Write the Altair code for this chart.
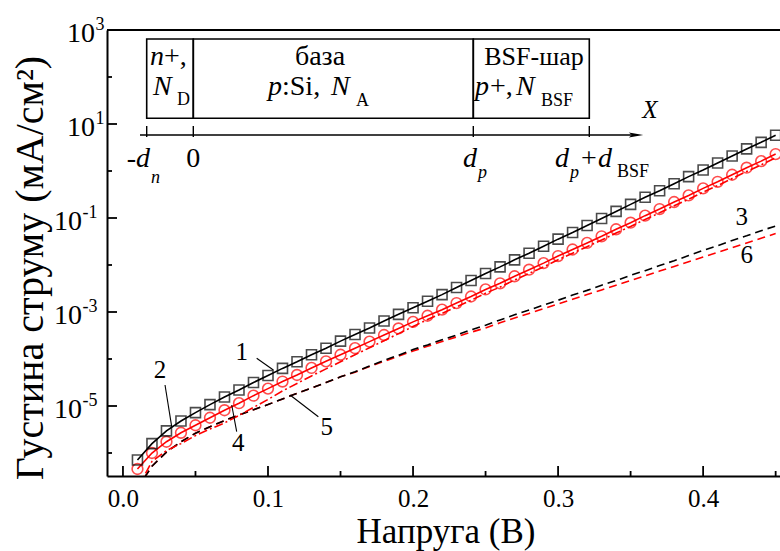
import altair as alt
import pandas as pd

# ---------------- data ----------------
voltage = [0.01, 0.02, 0.03, 0.04, 0.05, 0.06, 0.07, 0.08, 0.09, 0.10,
           0.11, 0.12, 0.13, 0.14, 0.15, 0.16, 0.17, 0.18, 0.19, 0.20,
           0.21, 0.22, 0.23, 0.24, 0.25, 0.26, 0.27, 0.28, 0.29, 0.30,
           0.31, 0.32, 0.33, 0.34, 0.35, 0.36, 0.37, 0.38, 0.39, 0.40,
           0.41, 0.42, 0.43, 0.44, 0.45]

# log10 of current density (mA/cm^2)
log_j_squares = [-6.15, -5.80, -5.53, -5.32, -5.14, -4.97, -4.81, -4.66, -4.50, -4.35,
                 -4.20, -4.06, -3.91, -3.77, -3.62, -3.48, -3.34, -3.19, -3.05, -2.91,
                 -2.77, -2.63, -2.48, -2.33, -2.18, -2.04, -1.89, -1.75, -1.60, -1.45,
                 -1.31, -1.16, -1.01, -0.86, -0.71, -0.56, -0.42, -0.27, -0.12, 0.02,
                 0.17, 0.32, 0.47, 0.61, 0.76]
log_j_circles = [-6.34, -6.00, -5.76, -5.57, -5.41, -5.25, -5.09, -4.94, -4.78, -4.63,
                 -4.48, -4.34, -4.19, -4.05, -3.91, -3.77, -3.63, -3.49, -3.35, -3.21,
                 -3.08, -2.95, -2.81, -2.67, -2.52, -2.39, -2.24, -2.10, -1.96, -1.81,
                 -1.67, -1.53, -1.39, -1.24, -1.10, -0.95, -0.81, -0.66, -0.52, -0.37,
                 -0.23, -0.08, 0.07, 0.21, 0.36]
log_j_dash_black = [-6.75, -6.28, -5.98, -5.76, -5.58, -5.44, -5.31, -5.19, -5.08, -4.97,
                    -4.85, -4.73, -4.62, -4.50, -4.38, -4.27, -4.15, -4.03, -3.92, -3.80,
                    -3.70, -3.59, -3.49, -3.38, -3.28, -3.17, -3.06, -2.96, -2.85, -2.75,
                    -2.64, -2.54, -2.43, -2.33, -2.22, -2.12, -2.01, -1.91, -1.80, -1.69,
                    -1.59, -1.48, -1.38, -1.27, -1.17]
log_j_dash_red = [-6.75, -6.28, -5.98, -5.76, -5.58, -5.44, -5.31, -5.19, -5.08, -4.97,
                  -4.85, -4.73, -4.62, -4.50, -4.38, -4.28, -4.16, -4.05, -3.94, -3.83,
                  -3.73, -3.63, -3.53, -3.43, -3.34, -3.23, -3.13, -3.03, -2.93, -2.83,
                  -2.73, -2.63, -2.53, -2.43, -2.33, -2.23, -2.13, -2.03, -1.93, -1.83,
                  -1.73, -1.63, -1.53, -1.43, -1.33]
log_j_dashdot_red = [-6.75, -6.18, -5.95, -5.80, -5.63, -5.49, -5.36, -5.20, -5.03, -4.86,
                     -4.68, -4.52, -4.36, -4.21, -4.06, -3.91, -3.76, -3.61, -3.46, -3.31,
                     -3.16, -3.03, -2.89, -2.75, -2.60, -2.47, -2.32, -2.18, -2.04, -1.89,
                     -1.75, -1.61, -1.47, -1.32, -1.18, -1.03, -0.89, -0.74, -0.60, -0.45,
                     -0.31, -0.16, -0.01, 0.13, 0.28]

# curve number labels (voltage, log10 J)
ann_labels = ["1", "2", "3", "4", "5", "6"]
ann_v = [0.0819, 0.0255, 0.4267, 0.0795, 0.1405, 0.4300]
ann_logj = [-3.845, -4.234, -0.972, -5.787, -5.440, -1.787]
# leader lines (start voltage, start logJ, end voltage, end logJ)
lead_v1 = [0.0922, 0.0290, 0.0784, 0.1347]
lead_l1 = [-3.985, -4.553, -5.547, -5.228]
lead_v2 = [0.1037, 0.0336, 0.0750, 0.1152]
lead_l2 = [-4.234, -5.440, -4.979, -4.766]

x_major = [0.0, 0.1, 0.2, 0.3, 0.4]
x_minor = [0.05, 0.15, 0.25, 0.35, 0.45]
y_major = [1e3, 1e1, 1e-1, 1e-3, 1e-5]
y_major_exp = ["3", "1", "-1", "-3", "-5"]
y_minor = [1e2, 1e0, 1e-2, 1e-4, 1e-6]

# ---------------- layout ----------------
W, H = 673, 446
FONT = "'Liberation Serif', 'Times New Roman', 'DejaVu Serif', serif"
RED = "#ff0000"

xscale = alt.Scale(domain=[-0.011, 0.453], nice=False, zero=False)
yscale = alt.Scale(type="log", domain=[3.24e-7, 1000], nice=False)
xaxis = alt.Axis(values=x_major, format=".1f", labelFont=FONT, labelFontSize=25,
                 labelColor="black", labelPadding=10, labelFlush=False, ticks=False,
                 title=None, grid=False, domainColor="black", domainWidth=2)
yaxis = alt.Axis(labels=False, ticks=False, title=None, grid=False,
                 domainColor="black", domainWidth=2)


def X(field):
    return alt.X(field, type="quantitative", scale=xscale, axis=xaxis)


def Y(field):
    return alt.Y(field, type="quantitative", scale=yscale, axis=yaxis)


def series(logs):
    return pd.DataFrame({"V": voltage, "J": [10 ** v for v in logs]})


layers = []

# curves
layers.append(alt.Chart(series(log_j_dash_red)).mark_line(
    color=RED, strokeWidth=1.6, strokeDash=[8, 5], clip=True).encode(x=X("V"), y=Y("J")))
layers.append(alt.Chart(series(log_j_dash_black)).mark_line(
    color="black", strokeWidth=1.6, strokeDash=[8, 5], clip=True).encode(x=X("V"), y=Y("J")))
layers.append(alt.Chart(series(log_j_dashdot_red)).mark_line(
    color=RED, strokeWidth=1.6, strokeDash=[9, 3, 2, 3], clip=True).encode(x=X("V"), y=Y("J")))
layers.append(alt.Chart(series(log_j_circles)).mark_line(
    color=RED, strokeWidth=1.6, clip=True).encode(x=X("V"), y=Y("J")))
layers.append(alt.Chart(series(log_j_circles)).mark_point(
    shape="circle", filled=False, color=RED, size=115, strokeWidth=1.6, clip=True).encode(x=X("V"), y=Y("J")))
layers.append(alt.Chart(series(log_j_squares)).mark_line(
    color="black", strokeWidth=1.6, clip=True).encode(x=X("V"), y=Y("J")))
layers.append(alt.Chart(series(log_j_squares)).mark_point(
    shape="square", filled=False, color="black", size=100, strokeWidth=1.6, clip=True).encode(x=X("V"), y=Y("J")))

# annotations
ann_df = pd.DataFrame({"V": ann_v, "J": [10 ** v for v in ann_logj], "label": ann_labels})
layers.append(alt.Chart(ann_df).mark_text(font=FONT, fontSize=25, color="black",
                                          baseline="middle", align="center").encode(
    x=X("V"), y=Y("J"), text="label:N"))
lead_df = pd.DataFrame({"V1": lead_v1, "J1": [10 ** v for v in lead_l1],
                        "V2": lead_v2, "J2": [10 ** v for v in lead_l2]})
layers.append(alt.Chart(lead_df).mark_rule(color="black", strokeWidth=1.1).encode(
    x=X("V1"), y=Y("J1"), x2="V2:Q", y2="J2:Q"))

# inward ticks
for vals, ln in ((x_major, 10), (x_minor, 5)):
    layers.append(alt.Chart(pd.DataFrame({"V": vals})).mark_rule(color="black", strokeWidth=1.8).encode(
        x=X("V"), y=alt.value(H), y2=alt.value(H - ln)))
for vals, ln in ((y_major, 10), (y_minor, 5)):
    layers.append(alt.Chart(pd.DataFrame({"J": vals})).mark_rule(color="black", strokeWidth=1.8).encode(
        y=Y("J"), x=alt.value(0), x2=alt.value(ln)))

# top frame line
dummy = pd.DataFrame({"d": [0]})
layers.append(alt.Chart(dummy).mark_rule(color="black", strokeWidth=2).encode(
    x=alt.value(0), x2=alt.value(W), y=alt.value(0)))

# y tick labels 10^n
ylab = pd.DataFrame({"J": y_major, "exp": y_major_exp})
ylab["neg"] = ylab["exp"].str.startswith("-")
for neg, xr in ((False, -12), (True, -25)):
    sub = ylab[ylab["neg"] == neg]
    layers.append(alt.Chart(sub).mark_text(text="10", font=FONT, fontSize=28, color="black",
                                           align="right", baseline="middle", dy=4).encode(
        y=Y("J"), x=alt.value(xr)))
    layers.append(alt.Chart(sub).mark_text(font=FONT, fontSize=18, color="black",
                                           align="left", baseline="middle", dy=-5).encode(
        y=Y("J"), x=alt.value(xr + 0.5), text="exp:N"))

# axis titles
layers.append(alt.Chart(dummy).mark_text(text="Напруга (В)", font=FONT, fontSize=35, color="black",
                                         align="center", baseline="alphabetic").encode(
    x=alt.value(339), y=alt.value(513)))
layers.append(alt.Chart(dummy).mark_text(text="Густина струму (мА/см²)", font=FONT, fontSize=40,
                                         color="black", angle=270, align="center",
                                         baseline="alphabetic").encode(
    x=alt.value(-64), y=alt.value(238)))

# ---------------- inset schematic (pixel layout) ----------------
boxes = [(39.7, 86.3), (86.3, 366.3), (366.3, 482.3)]
for x0, x1 in boxes:
    layers.append(alt.Chart(dummy).mark_rect(fillOpacity=0, stroke="black", strokeWidth=1.6).encode(
        x=alt.value(x0), x2=alt.value(x1), y=alt.value(9), y2=alt.value(88.3)))
layers.append(alt.Chart(dummy).mark_rule(color="black", strokeWidth=1.6).encode(
    x=alt.value(33), x2=alt.value(530), y=alt.value(105)))
for xt in (39.7, 86.3, 366.3, 482.3):
    layers.append(alt.Chart(dummy).mark_rule(color="black", strokeWidth=1.4).encode(
        x=alt.value(xt), y=alt.value(96), y2=alt.value(107)))
layers.append(alt.Chart(dummy).mark_point(shape="M-1,-0.36L1,0L-1,0.36L-0.55,0Z", filled=True,
                                          color="black", opacity=1, size=210).encode(
    x=alt.value(529), y=alt.value(105)))

inset_texts = [
    # (text, x, y, size, italic, align)
    ("n", 43, 35, 28, True, "left"),
    ("+,", 57, 35, 28, False, "left"),
    ("N", 46, 65, 28, True, "left"),
    ("D", 70, 75, 18, False, "left"),
    ("база", 213, 35, 28, False, "center"),
    ("p", 161, 65, 28, True, "left"),
    (":Si,", 175, 65, 28, False, "left"),
    ("N", 224, 65, 28, True, "left"),
    ("A", 249, 76, 18, False, "left"),
    ("BSF-шар", 427, 35, 26, False, "center"),
    ("p", 368, 65, 28, True, "left"),
    ("+,", 383, 65, 28, False, "left"),
    ("N", 409, 65, 28, True, "left"),
    ("BSF", 434, 76, 18, False, "left"),
    ("-d", 43, 137, 28, True, "right"),
    ("n", 44, 153, 18, True, "left"),
    ("0", 86.3, 137, 28, False, "center"),
    ("d", 356, 137, 28, True, "left"),
    ("p", 371, 148, 18, True, "left"),
    ("d", 448, 137, 28, True, "left"),
    ("p", 463, 148, 18, True, "left"),
    ("+", 474, 137, 28, False, "left"),
    ("d", 491, 137, 28, True, "left"),
    ("BSF", 510, 147, 18, False, "left"),
    ("X", 543, 88, 25, True, "center"),
]
for t, x, y, s, it, al in inset_texts:
    kw = dict(text=t, font=FONT, fontSize=s, color="black", align=al, baseline="alphabetic")
    if it:
        kw["fontStyle"] = "italic"
    layers.append(alt.Chart(dummy).mark_text(**kw).encode(x=alt.value(x), y=alt.value(y)))

chart = alt.layer(*layers).properties(
    width=W, height=H,
    padding={"left": 107, "top": 30, "right": 0, "bottom": 75},
    autosize=alt.AutoSizeParams(type="none"),
).configure_view(stroke=None)

chart.save("out.html", embed_options={"renderer": "svg", "actions": False})
